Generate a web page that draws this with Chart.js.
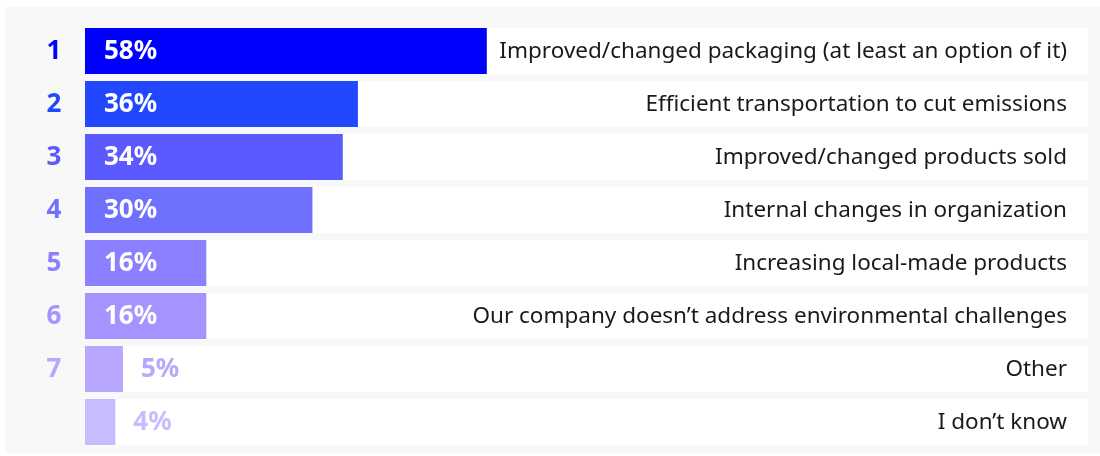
<!DOCTYPE html>
<html>
<head>
<meta charset="utf-8">
<script src="https://cdn.jsdelivr.net/npm/chart.js@4/dist/chart.umd.min.js"></script>
<style>
  html, body { margin: 0; padding: 0; background: #ffffff; }
  #wrap { width: 1100px; height: 456px; position: relative; }
</style>
</head>
<body>
<div id="wrap"><canvas id="myChart"></canvas></div>
<script>
// data
const ranks = ["1", "2", "3", "4", "5", "6", "7", ""];
const categories = [
  "Improved/changed packaging (at least an option of it)",
  "Efficient transportation to cut emissions",
  "Improved/changed products sold",
  "Internal changes in organization",
  "Increasing local-made products",
  "Our company doesn\u2019t address environmental challenges",
  "Other",
  "I don\u2019t know"
];
const shares = [58, 36, 34, 30, 16, 16, 5, 4];
const barColors = ["#0000ff", "#2148ff", "#5a5aff", "#7070ff", "#8b80ff", "#a394ff", "#b9a6ff", "#c6bcff"];

// the first bar is drawn shorter than its value in the original
const barCap = 53;
const axisMax = 132.3;

const fontName = "'Noto Sans', 'Open Sans', sans-serif";

// grey panel behind everything
const panelBg = {
  id: "panelBg",
  beforeDraw(chart) {
    const ctx = chart.ctx;
    ctx.save();
    ctx.fillStyle = "#ffffff";
    ctx.fillRect(0, 0, chart.width, chart.height);
    ctx.fillStyle = "#f8f8f8";
    ctx.fillRect(5, 7, chart.width - 5, chart.height - 10);
    ctx.restore();
  }
};

// ranks, percentages and category names
const rowText = {
  id: "rowText",
  afterDatasetsDraw(chart) {
    const ctx = chart.ctx;
    const x = chart.scales.x;
    const y = chart.scales.y;
    const meta = chart.getDatasetMeta(1);
    ctx.save();
    ctx.textBaseline = "middle";
    for (let i = 0; i < categories.length; i++) {
      const cy = y.getPixelForValue(i) + 1;
      const bar = meta.data[i];

      ctx.font = "bold 26px " + fontName;
      ctx.textAlign = "center";
      ctx.fillStyle = barColors[i];
      ctx.fillText(ranks[i], 54, cy);

      ctx.textAlign = "left";
      const label = shares[i] + "%";
      if (shares[i] >= 10) {
        ctx.fillStyle = "#ffffff";
        ctx.fillText(label, x.getPixelForValue(0) + 19, cy);
      } else {
        ctx.fillStyle = barColors[i];
        ctx.fillText(label, bar.x + 18, cy);
      }

      ctx.font = "22.5px " + fontName;
      ctx.textAlign = "right";
      ctx.fillStyle = "#1a1a1a";
      ctx.fillText(categories[i], x.right - 21, cy);
    }
    ctx.restore();
  }
};

new Chart("myChart", {
  type: "bar",
  data: {
    labels: categories,
    datasets: [
      {
        data: categories.map(() => axisMax),
        backgroundColor: "#ffffff",
        grouped: false,
        order: 2,
        barPercentage: 46 / 53,
        categoryPercentage: 1
      },
      {
        data: shares.map((v) => Math.min(v, barCap)),
        backgroundColor: barColors,
        grouped: false,
        order: 1,
        barPercentage: 46 / 53,
        categoryPercentage: 1
      }
    ]
  },
  options: {
    indexAxis: "y",
    responsive: true,
    maintainAspectRatio: false,
    animation: false,
    layout: { padding: { left: 85, right: 12, top: 24.5, bottom: 7.5 } },
    scales: {
      x: { display: false, min: 0, max: axisMax },
      y: { display: false }
    },
    plugins: {
      legend: { display: false },
      tooltip: { enabled: false }
    }
  },
  plugins: [panelBg, rowText]
});
</script>
</body>
</html>
